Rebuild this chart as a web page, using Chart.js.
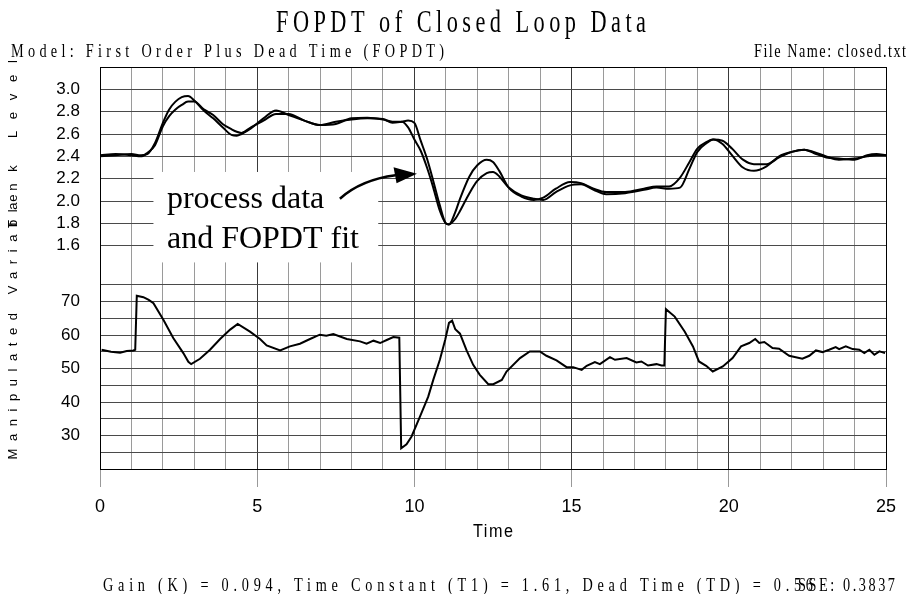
<!DOCTYPE html>
<html>
<head>
<meta charset="utf-8">
<script src="https://cdn.jsdelivr.net/npm/chart.js@4.4.0/dist/chart.umd.min.js"></script>
<style>
  html, body { margin: 0; padding: 0; background: #fff; }
  #wrap { width: 909px; height: 594px; }
</style>
</head>
<body>
<div id="wrap"><canvas id="chart" width="909" height="594"></canvas></div>
<script>
// tank level: time grid, fitted FOPDT curve and measured process data
const levelTime = [0, 0.5, 1.0, 1.3, 1.5, 1.75, 2.0, 2.2, 2.4, 2.6, 2.8, 3.0, 3.3, 3.6, 3.9, 4.2, 4.35, 4.5, 4.8, 5.2,
  5.6, 6.0, 6.5, 7.0, 7.5, 8.0, 8.5, 9.0, 9.3, 9.6, 9.8, 10.0, 10.2, 10.4, 10.6, 10.8, 11.0, 11.1, 11.3, 11.45,
  11.75, 12.0, 12.3, 12.5, 12.7, 13.0, 13.4, 13.8, 14.1, 14.5, 14.95, 15.3, 15.7, 16.1, 16.7, 17.3, 17.7, 18.1, 18.45, 18.75,
  19.0, 19.3, 19.5, 19.8, 20.1, 20.45, 20.8, 21.2, 21.6, 22.0, 22.4, 22.7, 23.1, 23.5, 24.0, 24.4, 24.7, 25.0];
const fopdtFit = [2.40, 2.41, 2.42, 2.41, 2.42, 2.52, 2.70, 2.82, 2.89, 2.93, 2.94, 2.90, 2.81, 2.74, 2.66, 2.59, 2.585, 2.60, 2.65, 2.74,
  2.81, 2.77, 2.72, 2.68, 2.69, 2.74, 2.745, 2.73, 2.71, 2.71, 2.66, 2.55, 2.45, 2.30, 2.12, 1.92, 1.80, 1.79, 1.90, 2.02,
  2.22, 2.32, 2.37, 2.35, 2.27, 2.12, 2.04, 2.01, 2.03, 2.11, 2.17, 2.16, 2.11, 2.08, 2.08, 2.11, 2.13, 2.13, 2.21, 2.35,
  2.47, 2.53, 2.55, 2.51, 2.41, 2.30, 2.27, 2.31, 2.40, 2.44, 2.46, 2.44, 2.40, 2.37, 2.38, 2.40, 2.41, 2.41];
const processData = [2.41, 2.42, 2.41, 2.40, 2.43, 2.50, 2.67, 2.76, 2.82, 2.86, 2.89, 2.89, 2.82, 2.77, 2.69, 2.64, 2.62, 2.61, 2.66, 2.72,
  2.78, 2.78, 2.72, 2.68, 2.71, 2.73, 2.74, 2.735, 2.70, 2.71, 2.72, 2.70, 2.54, 2.38, 2.18, 1.97, 1.80, 1.79, 1.84, 1.91,
  2.07, 2.18, 2.25, 2.26, 2.22, 2.12, 2.05, 2.02, 2.01, 2.08, 2.14, 2.15, 2.10, 2.06, 2.07, 2.10, 2.12, 2.11, 2.12, 2.29,
  2.44, 2.52, 2.55, 2.54, 2.47, 2.37, 2.33, 2.33, 2.39, 2.44, 2.46, 2.43, 2.39, 2.38, 2.37, 2.41, 2.42, 2.41];

// manipulated variable
const mvTime = [0.05, 0.35, 0.64, 0.85, 1.06, 1.12, 1.17, 1.38, 1.55, 1.7, 2.02, 2.33, 2.65, 2.81, 2.9, 3.18, 3.5, 3.82, 4.14, 4.38,
  4.77, 5.09, 5.3, 5.73, 6.04, 6.36, 6.68, 6.99, 7.2, 7.42, 7.85, 8.27, 8.48, 8.7, 8.91, 9.12, 9.33, 9.52, 9.58, 9.75,
  9.91, 10.18, 10.44, 10.6, 10.81, 10.98, 11.1, 11.2, 11.3, 11.45, 11.66, 11.87, 12.08, 12.35, 12.51, 12.78, 12.93, 13.36, 13.67, 13.99,
  14.2, 14.52, 14.84, 15.05, 15.32, 15.48, 15.74, 15.9, 16.22, 16.38, 16.75, 17.06, 17.22, 17.43, 17.7, 17.86, 17.95, 18.0, 18.28, 18.6,
  18.86, 19.05, 19.28, 19.49, 19.81, 20.12, 20.39, 20.65, 20.84, 20.97, 21.13, 21.39, 21.6, 21.92, 22.34, 22.56, 22.77, 22.98, 23.19, 23.4,
  23.51, 23.72, 23.94, 24.15, 24.31, 24.47, 24.63, 24.79, 24.97];
const mvValue = [55.6, 55.0, 54.7, 55.2, 55.4, 55.6, 71.7, 71.3, 70.5, 69.5, 64.5, 59.1, 54.6, 52.0, 51.3, 52.9, 55.6, 58.8, 61.6, 63.3,
  61.0, 58.8, 56.9, 55.4, 56.6, 57.4, 58.8, 60.1, 59.8, 60.3, 58.8, 58.1, 57.4, 58.3, 57.6, 58.5, 59.4, 59.2, 26.2, 27.4,
  29.7, 35.7, 41.6, 46.6, 52.6, 58.6, 63.6, 64.3, 61.7, 60.4, 55.4, 51.1, 48.1, 45.3, 45.3, 46.6, 49.1, 53.1, 55.1, 55.1,
  53.8, 52.4, 50.4, 50.4, 49.6, 50.8, 51.9, 51.3, 53.4, 52.6, 53.1, 51.8, 52.1, 50.9, 51.3, 50.9, 50.9, 67.7, 65.5, 61.0,
  56.6, 52.1, 50.8, 49.1, 50.6, 53.1, 56.6, 57.6, 58.8, 57.6, 57.9, 56.1, 55.9, 53.8, 52.9, 53.8, 55.4, 54.9, 55.6, 56.4,
  55.8, 56.6, 55.8, 55.6, 54.6, 55.6, 54.1, 55.1, 54.6];

const levelTicks = [1.6, 1.8, 2.0, 2.2, 2.4, 2.6, 2.8, 3.0];
const mvTicks = [30, 40, 50, 60, 70];
const timeTicks = [0, 5, 10, 15, 20, 25];

const toPoints = (xs, ys) => xs.map((x, i) => ({ x: x, y: ys[i] }));
const sansFamily = '"Liberation Sans Narrow", "Liberation Sans", Arial, sans-serif';
const serifFamily = '"Liberation Serif", "Times New Roman", serif';

// draw text squeezed horizontally and stretched with letter spacing to a given width
function spacedText(ctx, str, x, y, width, font, squeeze, align) {
  ctx.save();
  ctx.font = font;
  ctx.letterSpacing = '0px';
  const natural = ctx.measureText(str).width;
  const gap = (width / squeeze - natural) / (str.length - 1);
  ctx.letterSpacing = gap + 'px';
  ctx.translate(x, y);
  ctx.scale(squeeze, 1);
  ctx.textAlign = 'left';
  const w = width / squeeze;
  const start = align === 'center' ? -w / 2 : align === 'right' ? -w : 0;
  ctx.fillStyle = '#000';
  ctx.fillText(str, start, 0);
  ctx.restore();
}

const decorations = {
  id: 'decorations',
  beforeDatasetsDraw(chart) {
    const { ctx, chartArea: a, scales } = chart;
    const x = scales.x, yl = scales.yLevel;
    ctx.save();
    // frame
    ctx.strokeStyle = '#000';
    ctx.lineWidth = 1;
    ctx.strokeRect(a.left + 0.5, a.top + 0.5, a.right - a.left, a.bottom - a.top);
    // label box
    const bx0 = x.getPixelForValue(1.7), bx1 = x.getPixelForValue(8.85);
    const by0 = yl.getPixelForValue(2.26), by1 = yl.getPixelForValue(1.45);
    ctx.fillStyle = '#fff';
    ctx.fillRect(bx0, by0, bx1 - bx0, by1 - by0);
    ctx.fillStyle = '#000';
    ctx.font = '32px ' + serifFamily;
    ctx.textBaseline = 'alphabetic';
    ctx.fillText('process data', x.getPixelForValue(2.13), yl.getPixelForValue(1.935));
    ctx.fillText('and FOPDT fit', x.getPixelForValue(2.13), yl.getPixelForValue(1.58));
    ctx.restore();
  },
  afterDatasetsDraw(chart) {
    const { ctx, scales } = chart;
    const x = scales.x, yl = scales.yLevel;
    const p = (t, v) => [x.getPixelForValue(t), yl.getPixelForValue(v)];
    const s = p(7.63, 2.02), c = p(8.3, 2.19), e = p(9.4, 2.23), tip = p(10.08, 2.245);
    ctx.save();
    ctx.strokeStyle = '#000';
    ctx.lineWidth = 2.5;
    ctx.beginPath();
    ctx.moveTo(s[0], s[1]);
    ctx.quadraticCurveTo(c[0], c[1], e[0], e[1]);
    ctx.stroke();
    ctx.beginPath();
    ctx.moveTo(tip[0], tip[1]);
    ctx.lineTo(e[0] - 2, e[1] - 8);
    ctx.lineTo(e[0] + 1, e[1] + 8);
    ctx.closePath();
    ctx.fillStyle = '#000';
    ctx.fill();
    ctx.restore();
  },
  afterDraw(chart) {
    const ctx = chart.ctx;
    ctx.save();
    ctx.textBaseline = 'alphabetic';
    spacedText(ctx, 'FOPDT of Closed Loop Data', 461, 32, 370, '31px ' + serifFamily, 0.72, 'center');
    spacedText(ctx, 'Model: First Order Plus Dead Time (FOPDT)', 11, 57, 433, '19px ' + serifFamily, 0.75, 'left');
    spacedText(ctx, 'File Name: closed.txt', 906, 57, 152, '19px ' + serifFamily, 0.75, 'right');
    spacedText(ctx, 'Time', 493, 537, 40, '18px ' + sansFamily, 0.9, 'center');
    spacedText(ctx, 'Gain (K) = 0.094, Time Constant (T1) = 1.61, Dead Time (TD) = 0.56', 103, 591, 710, '19px ' + serifFamily, 0.75, 'left');
    spacedText(ctx, 'SSE: 0.3837', 895, 591, 97, '19px ' + serifFamily, 0.75, 'right');
    // rotated axis titles
    ctx.save();
    ctx.translate(13, 144);
    ctx.rotate(-Math.PI / 2);
    ctx.textBaseline = 'middle';
    spacedText(ctx, 'Tank Level', 0, 0, 168, '13px ' + sansFamily, 1, 'center');
    ctx.restore();
    ctx.save();
    ctx.translate(13, 327);
    ctx.rotate(-Math.PI / 2);
    ctx.textBaseline = 'middle';
    spacedText(ctx, 'Manipulated Variable', 0, 0, 265, '13px ' + sansFamily, 1, 'center');
    ctx.restore();
    ctx.restore();
  }
};

const near = (v, list) => list.some(t => Math.abs(t - v) < 1e-6);

new Chart(document.getElementById('chart'), {
  type: 'line',
  data: {
    datasets: [
      { label: 'FOPDT fit', data: toPoints(levelTime, fopdtFit), yAxisID: 'yLevel',
        borderColor: '#000', borderWidth: 2, pointRadius: 0, cubicInterpolationMode: 'monotone' },
      { label: 'Process data', data: toPoints(levelTime, processData), yAxisID: 'yLevel',
        borderColor: '#000', borderWidth: 2, pointRadius: 0, cubicInterpolationMode: 'monotone' },
      { label: 'Manipulated Variable', data: toPoints(mvTime, mvValue), yAxisID: 'yMV',
        borderColor: '#000', borderWidth: 2, pointRadius: 0, tension: 0 }
    ]
  },
  options: {
    responsive: false,
    animation: false,
    layout: { padding: { top: 67, right: 23, left: 0, bottom: 0 } },
    plugins: { legend: { display: false }, tooltip: { enabled: false }, title: { display: false } },
    scales: {
      x: {
        type: 'linear', min: 0, max: 25,
        afterFit: s => { s.height = 125; },
        border: { display: false },
        grid: {
          color: c => (c.tick.value % 5 === 0 ? '#3a3a3a' : '#9a9a9a'),
          tickLength: 18,
          tickColor: c => (c.tick.value % 5 === 0 ? '#999' : 'rgba(0,0,0,0)')
        },
        ticks: {
          stepSize: 1, autoSkip: false, maxRotation: 0, padding: 9, color: '#000',
          font: { family: sansFamily, size: 18 },
          callback: v => (near(v, timeTicks) ? String(v) : '')
        }
      },
      yMV: {
        type: 'linear', position: 'left', stack: 'panels', stackWeight: 1,
        min: 20, max: 80,
        afterFit: s => { s.width = 100; },
        border: { display: false },
        grid: {
          drawTicks: false,
          color: c => (c.tick.value > 21 && c.tick.value < 79 ? '#4a4a4a' : 'rgba(0,0,0,0)')
        },
        ticks: {
          stepSize: 5, autoSkip: false, padding: 20, color: '#000',
          font: { family: sansFamily, size: 17 },
          callback: v => (near(v, mvTicks) ? String(v) : '')
        }
      },
      yLevel: {
        type: 'linear', position: 'left', stack: 'panels', stackWeight: 1,
        min: 1.4, max: 3.2,
        afterFit: s => { s.width = 100; },
        border: { display: false },
        grid: {
          drawTicks: false,
          color: c => (near(c.tick.value, levelTicks) ? '#4a4a4a' : 'rgba(0,0,0,0)')
        },
        ticks: {
          stepSize: 0.2, autoSkip: false, padding: 20, color: '#000',
          font: { family: sansFamily, size: 17 },
          callback: v => (near(v, levelTicks) ? v.toFixed(1) : '')
        }
      }
    }
  },
  plugins: [decorations]
});
</script>
</body>
</html>
